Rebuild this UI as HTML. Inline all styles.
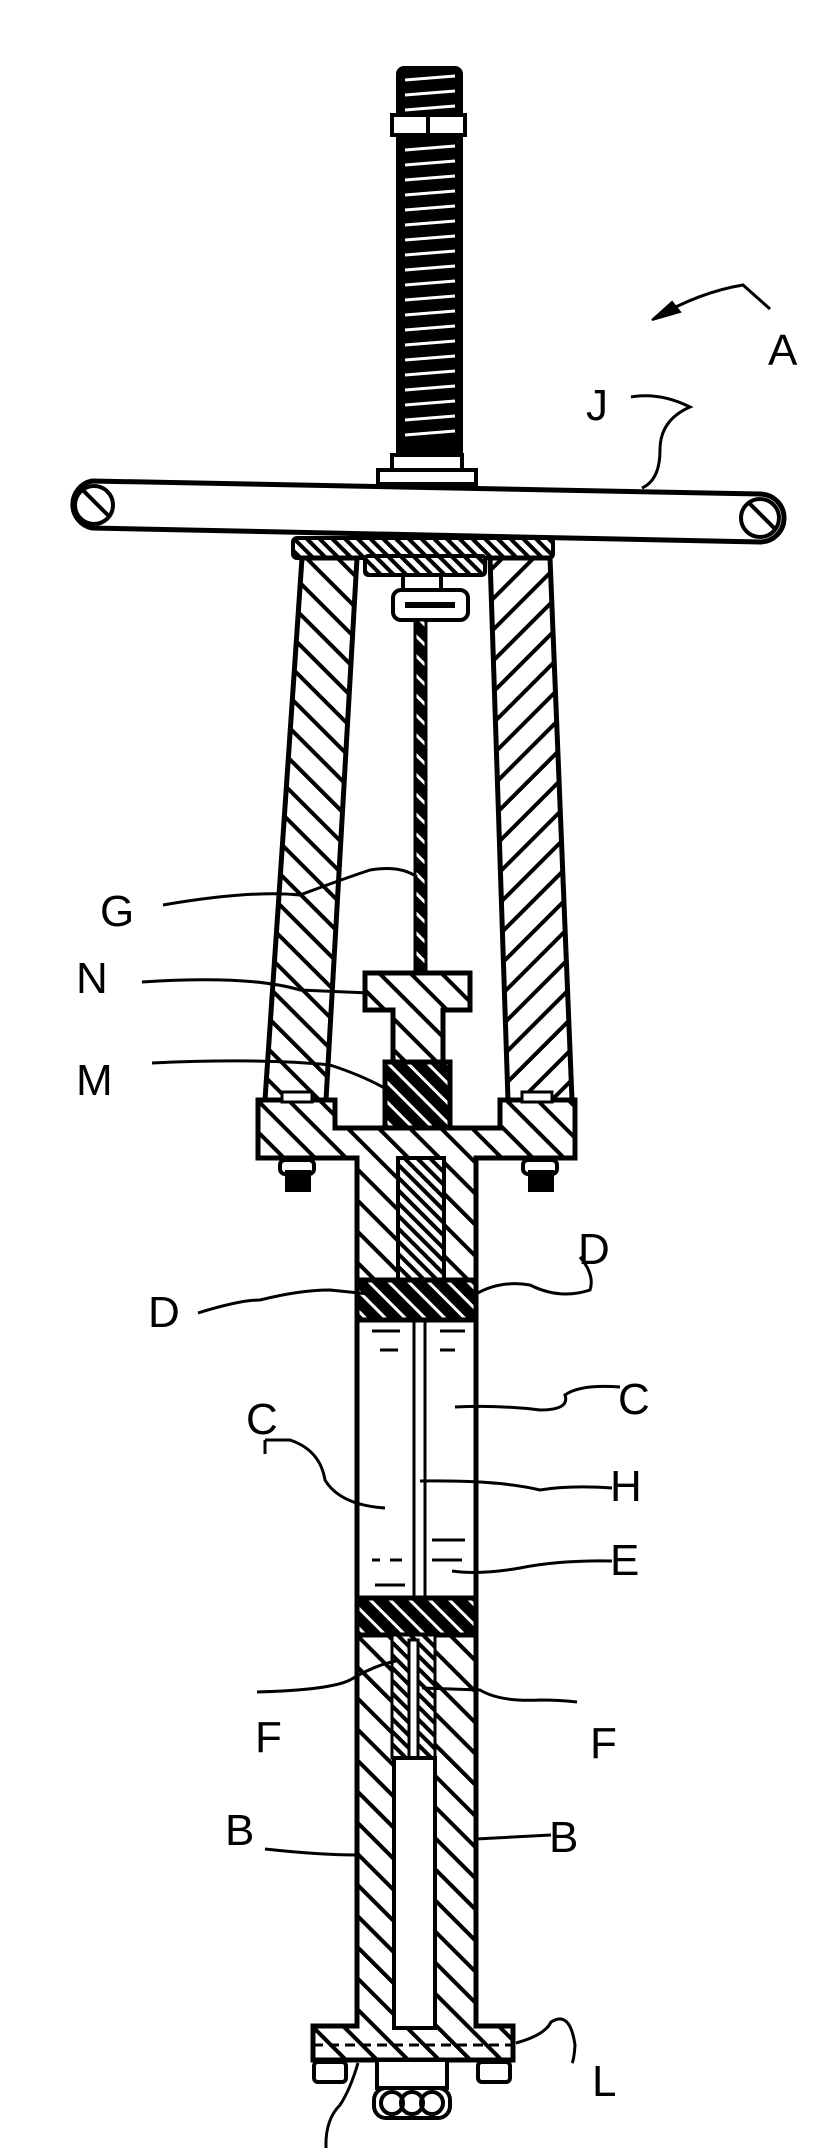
<!DOCTYPE html>
<html><head><meta charset="utf-8"><style>
html,body{margin:0;padding:0;background:#fff}
svg{display:block}
text{font-family:"Liberation Sans",sans-serif;font-size:44px;fill:#000}
</style></head><body>
<svg width="832" height="2148" viewBox="0 0 832 2148" xmlns="http://www.w3.org/2000/svg">
<defs>
<pattern id="h" width="22" height="22" patternUnits="userSpaceOnUse" patternTransform="rotate(45)">
<rect width="22" height="22" fill="#fff"/><rect width="22" height="4" fill="#000"/></pattern>
<pattern id="hr" width="22" height="22" patternUnits="userSpaceOnUse" patternTransform="rotate(-45)">
<rect width="22" height="22" fill="#fff"/><rect width="22" height="4" fill="#000"/></pattern>
<pattern id="hs" width="9" height="9" patternUnits="userSpaceOnUse" patternTransform="rotate(45)">
<rect width="9" height="9" fill="#fff"/><rect width="9" height="4" fill="#000"/></pattern>
<pattern id="seal" width="14" height="14" patternUnits="userSpaceOnUse" patternTransform="rotate(45)">
<rect width="14" height="14" fill="#000"/><rect width="14" height="3" fill="#fff"/></pattern>
</defs>
<g stroke="#000" stroke-width="4" fill="none">
<!-- screw -->
<rect x="398" y="68" width="63" height="390" rx="6" fill="#000"/>
<g stroke="#fff" stroke-width="3">
<path d="M405 80 L455 76 M405 95 L455 91 M405 110 L455 106"/>
<path d="M405 150 L455 146 M405 165 L455 161 M405 180 L455 176 M405 195 L455 191 M405 210 L455 206 M405 225 L455 221 M405 240 L455 236 M405 255 L455 251 M405 270 L455 266 M405 285 L455 281 M405 300 L455 296 M405 315 L455 311 M405 330 L455 326 M405 345 L455 341 M405 360 L455 356 M405 375 L455 371 M405 390 L455 386 M405 405 L455 401 M405 420 L455 416 M405 435 L455 431"/>
</g>
<rect x="392" y="115" width="73" height="20" fill="#fff"/>
<line x1="428" y1="115" x2="428" y2="135"/>
<rect x="392" y="455" width="70" height="18" fill="#fff"/>
<rect x="378" y="470" width="98" height="14" fill="#fff"/>
<!-- handle J -->
<path d="M92 481 L760 494 A24 24 0 0 1 760 542 L92 528 A24 24 0 0 1 92 481 Z" fill="#fff" stroke-width="5"/>
<circle cx="94" cy="505" r="19" fill="url(#h)"/>
<circle cx="760" cy="518" r="19" fill="url(#h)"/>
<!-- top plate -->
<rect x="293" y="538" width="260" height="20" rx="4" fill="url(#hs)"/>
<rect x="365" y="556" width="120" height="19" rx="3" fill="url(#hs)"/>
<!-- legs -->
<path d="M302 558 L357 558 L326 1100 L265 1100 Z" fill="url(#h)" stroke-width="5"/>
<path d="M490 558 L550 558 L572 1100 L508 1100 Z" fill="url(#hr)" stroke-width="5"/>
<!-- small nut -->
<rect x="403" y="575" width="38" height="30" fill="#fff"/>
<rect x="393" y="590" width="75" height="30" rx="8" fill="#fff"/>
<line x1="405" y1="605" x2="455" y2="605" stroke-width="6"/>
<!-- rod G -->
<rect x="415" y="620" width="11" height="700" fill="url(#seal)" stroke-width="3"/>
<!-- N -->
<path d="M365 973 L470 973 L470 1010 L443 1010 L443 1062 L393 1062 L393 1010 L365 1010 Z" fill="url(#h)" stroke-width="5"/>
<!-- M -->
<rect x="385" y="1062" width="65" height="70" fill="url(#seal)" stroke-width="5"/>
<!-- flange -->
<path d="M258 1128 L258 1100 L335 1100 L335 1128 L500 1128 L500 1100 L575 1100 L575 1158 L476 1158 L476 1280 L357 1280 L357 1158 L258 1158 Z" fill="url(#h)" stroke-width="5"/>
<rect x="282" y="1092" width="30" height="10" fill="#fff" stroke-width="3"/>
<rect x="522" y="1092" width="30" height="10" fill="#fff" stroke-width="3"/>
<rect x="280" y="1160" width="34" height="14" rx="5" fill="#fff"/>
<rect x="287" y="1172" width="22" height="18" fill="#000"/>
<rect x="523" y="1160" width="34" height="14" rx="5" fill="#fff"/>
<rect x="530" y="1172" width="22" height="18" fill="#000"/>
<rect x="398" y="1158" width="46" height="122" fill="url(#hs)"/>
<!-- tube -->
<rect x="357" y="1280" width="119" height="40" fill="url(#seal)" stroke-width="5"/>
<rect x="357" y="1320" width="119" height="278" fill="#fff" stroke-width="5"/>
<line x1="414" y1="1320" x2="414" y2="1598" stroke-width="3"/>
<line x1="425" y1="1320" x2="425" y2="1598" stroke-width="3"/>
<g stroke-width="3">
<path d="M372 1331 L400 1331 M380 1350 L398 1350 M440 1331 L465 1331 M440 1350 L455 1350"/>
<path d="M432 1540 L465 1540 M372 1560 L380 1560 M390 1560 L402 1560 M432 1560 L462 1560 M375 1585 L405 1585"/>
</g>
<rect x="357" y="1598" width="119" height="37" fill="url(#seal)" stroke-width="5"/>
<path d="M357 1635 L357 2026 L313 2026 L313 2060 L513 2060 L513 2026 L476 2026 L476 1635 Z" fill="url(#h)" stroke-width="5"/>
<rect x="392" y="1635" width="43" height="123" fill="url(#hs)" stroke-width="3"/>
<rect x="409" y="1640" width="9" height="118" fill="#fff" stroke-width="3"/>
<rect x="394" y="1758" width="41" height="270" fill="#fff" stroke-width="4"/>
<line x1="313" y1="2045" x2="513" y2="2045" stroke-width="3" stroke-dasharray="10 6"/>
<rect x="314" y="2062" width="32" height="20" rx="4" fill="#fff"/>
<rect x="478" y="2062" width="32" height="20" rx="4" fill="#fff"/>
<rect x="377" y="2060" width="70" height="28" fill="#fff"/>
<rect x="374" y="2088" width="76" height="30" rx="12" fill="#fff"/>
<circle cx="392" cy="2103" r="11"/><circle cx="412" cy="2103" r="11"/><circle cx="432" cy="2103" r="11"/>
<!-- leaders -->
<g stroke-width="3">
<path d="M655 318 Q700 292 743 285 L770 309"/>
<path d="M631 397 Q660 392 690 407 Q660 420 660 450 Q660 480 642 488"/>
<path d="M163 905 Q250 890 300 895 Q340 880 370 870 Q400 865 417 877"/>
<path d="M142 982 Q250 975 300 990 L369 993"/>
<path d="M152 1063 Q260 1058 330 1065 Q370 1078 396 1095"/>
<path d="M198 1313 Q240 1300 260 1300 Q300 1290 330 1290 L369 1294"/>
<path d="M580 1257 Q595 1275 590 1290 Q560 1300 530 1285 Q500 1280 476 1294"/>
<path d="M620 1387 Q580 1384 565 1395 Q570 1410 540 1410 Q500 1405 455 1407"/>
<path d="M265 1454 L265 1440 M265 1440 L290 1440 Q320 1450 325 1480 Q340 1505 385 1508"/>
<path d="M612 1488 Q570 1485 540 1490 Q500 1480 420 1481"/>
<path d="M612 1561 Q560 1560 520 1568 Q480 1575 452 1571"/>
<path d="M257 1692 Q330 1690 350 1680 Q375 1665 396 1661"/>
<path d="M577 1702 Q560 1700 540 1700 Q500 1702 480 1690 L422 1688"/>
<path d="M265 1849 Q320 1855 357 1855"/>
<path d="M551 1835 L476 1839"/>
<path d="M516 2043 Q545 2035 551 2022 Q570 2010 575 2045 Q574 2060 572 2063"/>
<path d="M358 2063 Q350 2090 340 2105 Q325 2120 326 2148"/>
</g>
<path d="M652 320 L672 302 L680 312 Z" fill="#000" stroke-width="2"/>
</g>
<text x="768" y="365">A</text>
<text x="586" y="420">J</text>
<text x="100" y="926">G</text>
<text x="76" y="993">N</text>
<text x="76" y="1095">M</text>
<text x="148" y="1327">D</text>
<text x="578" y="1264">D</text>
<text x="618" y="1414">C</text>
<text x="246" y="1434">C</text>
<text x="610" y="1501">H</text>
<text x="610" y="1575">E</text>
<text x="255" y="1752">F</text>
<text x="590" y="1758">F</text>
<text x="225" y="1845">B</text>
<text x="549" y="1852">B</text>
<text x="592" y="2096">L</text>
</svg>
</body></html>
